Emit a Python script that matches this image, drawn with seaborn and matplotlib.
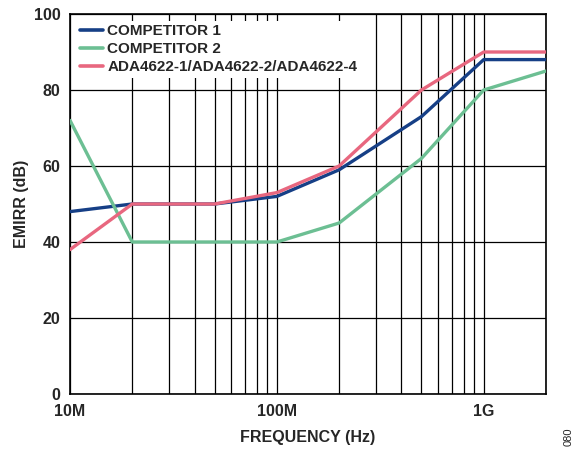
import numpy as np
import pandas as pd
import matplotlib
matplotlib.use("Agg")
import matplotlib.pyplot as plt
import seaborn as sns
from matplotlib.ticker import FixedLocator, NullFormatter

# === Data ===
freq_hz = [10e6, 20e6, 50e6, 100e6, 200e6, 500e6, 1e9, 2e9]
competitor1 = [48, 50, 50, 52, 59, 73, 88, 88]
competitor2 = [72, 40, 40, 40, 45, 62, 80, 85]
ada4622 = [38, 50, 50, 53, 60, 80, 90, 90]

series_names = ["COMPETITOR 1", "COMPETITOR 2", "ADA4622-1/ADA4622-2/ADA4622-4"]
colors = ["#163f86", "#6cbf93", "#e8677f"]

df = pd.DataFrame({
    "freq": freq_hz * 3,
    "emirr": competitor1 + competitor2 + ada4622,
    "series": [s for s in series_names for _ in freq_hz],
})

sns.set_theme(style="white")
plt.rcParams["font.family"] = ["Liberation Sans", "DejaVu Sans"]
plt.rcParams["font.weight"] = "bold"

fig = plt.figure(figsize=(5.8, 4.49), dpi=100)
ax = fig.add_axes([70 / 580, 55 / 449, 476 / 580, 380 / 449])

sns.lineplot(data=df, x="freq", y="emirr", hue="series", hue_order=series_names,
             palette=colors, linewidth=2.4, ax=ax, sort=False, zorder=3)

ax.set_xscale("log")
ax.set_xlim(10e6, 2e9)
ax.set_ylim(0, 100)

# grid: every minor decade position + 20 dB steps
minors = [m * 10 ** e for e in (7, 8) for m in range(1, 10)] + [1e9, 2e9]
ax.xaxis.set_major_locator(FixedLocator([1e7, 1e8, 1e9]))
ax.set_xticklabels(["10M", "100M", "1G"])
ax.xaxis.set_minor_locator(FixedLocator(minors))
ax.xaxis.set_minor_formatter(NullFormatter())
ax.set_yticks([0, 20, 40, 60, 80, 100])
ax.grid(True, which="both", axis="x", color="black", linewidth=0.9)
ax.grid(True, which="major", axis="y", color="black", linewidth=0.9)
ax.set_axisbelow(True)
ax.tick_params(axis="both", which="both", length=0, labelsize=11.5, pad=7)
for lbl in ax.get_xticklabels() + ax.get_yticklabels():
    lbl.set_fontweight("bold")
for sp in ax.spines.values():
    sp.set_color("black")
    sp.set_linewidth(1.2)

ax.set_xlabel("FREQUENCY (Hz)", fontsize=11.5, fontweight="bold", labelpad=8)
ax.set_ylabel("EMIRR (dB)", fontsize=11.5, fontweight="bold", labelpad=3)

leg = ax.legend(loc="upper left", frameon=True, fontsize=11, handlelength=1.5,
                borderaxespad=0.45, labelspacing=0.28, handletextpad=0.3,
                borderpad=0.2, facecolor="white", edgecolor="white", framealpha=1)
leg.get_frame().set_linewidth(0)
for t in leg.get_texts():
    t.set_fontweight("bold")
for line in leg.get_lines():
    line.set_linewidth(2.6)

fig.text(569 / 580, 1 - 437 / 449, "080", rotation=90, fontsize=8,
         fontweight="normal", ha="center", va="center")

fig.savefig("out.png", dpi=100)
